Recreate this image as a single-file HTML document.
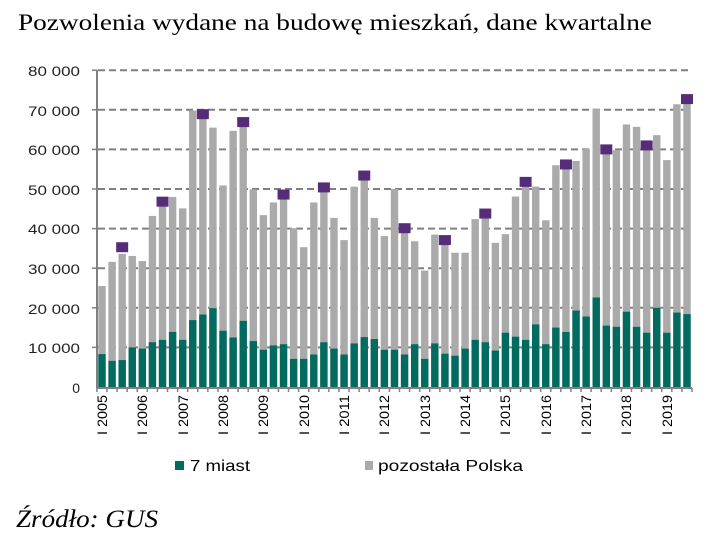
<!DOCTYPE html>
<html><head><meta charset="utf-8"><style>
body{margin:0;background:#fff;width:718px;height:541px;overflow:hidden}
svg{display:block}
</style></head><body>
<svg id="s" width="718" height="541" xmlns="http://www.w3.org/2000/svg">
<text x="18" y="30" font-family="Liberation Serif, serif" font-size="23" fill="#000" textLength="634" lengthAdjust="spacingAndGlyphs">Pozwolenia wydane na budowę mieszkań, dane kwartalne</text>
<g font-family="Liberation Sans, sans-serif" font-size="14" fill="#222" text-anchor="end">
<text x="80" y="76" textLength="52" lengthAdjust="spacingAndGlyphs">80 000</text>
<text x="80" y="116" textLength="52" lengthAdjust="spacingAndGlyphs">70 000</text>
<text x="80" y="155" textLength="52" lengthAdjust="spacingAndGlyphs">60 000</text>
<text x="80" y="195" textLength="52" lengthAdjust="spacingAndGlyphs">50 000</text>
<text x="80" y="234" textLength="52" lengthAdjust="spacingAndGlyphs">40 000</text>
<text x="80" y="274" textLength="52" lengthAdjust="spacingAndGlyphs">30 000</text>
<text x="80" y="314" textLength="52" lengthAdjust="spacingAndGlyphs">20 000</text>
<text x="80" y="353" textLength="52" lengthAdjust="spacingAndGlyphs">10 000</text>
<text x="80" y="393">0</text>
</g>
<g id="grid" stroke="#808080" stroke-width="2" stroke-dasharray="7,4"></g>
<g id="bars"></g>
<line x1="97" y1="70" x2="97" y2="388" stroke="#808080" stroke-width="2"/>
<line x1="97" y1="388" x2="692" y2="388" stroke="#808080" stroke-width="2"/>
<g id="ticks" stroke="#808080" stroke-width="1.5"></g>
<g font-family="Liberation Sans, sans-serif" font-size="14" fill="#000">
<text transform="translate(107,435) rotate(-90)" textLength="40" lengthAdjust="spacingAndGlyphs">I 2005</text>
<text transform="translate(147,435) rotate(-90)" textLength="40" lengthAdjust="spacingAndGlyphs">I 2006</text>
<text transform="translate(188,435) rotate(-90)" textLength="40" lengthAdjust="spacingAndGlyphs">I 2007</text>
<text transform="translate(228,435) rotate(-90)" textLength="40" lengthAdjust="spacingAndGlyphs">I 2008</text>
<text transform="translate(268,435) rotate(-90)" textLength="40" lengthAdjust="spacingAndGlyphs">I 2009</text>
<text transform="translate(309,435) rotate(-90)" textLength="40" lengthAdjust="spacingAndGlyphs">I 2010</text>
<text transform="translate(349,435) rotate(-90)" textLength="40" lengthAdjust="spacingAndGlyphs">I 2011</text>
<text transform="translate(389,435) rotate(-90)" textLength="40" lengthAdjust="spacingAndGlyphs">I 2012</text>
<text transform="translate(430,435) rotate(-90)" textLength="40" lengthAdjust="spacingAndGlyphs">I 2013</text>
<text transform="translate(470,435) rotate(-90)" textLength="40" lengthAdjust="spacingAndGlyphs">I 2014</text>
<text transform="translate(510,435) rotate(-90)" textLength="40" lengthAdjust="spacingAndGlyphs">I 2015</text>
<text transform="translate(551,435) rotate(-90)" textLength="40" lengthAdjust="spacingAndGlyphs">I 2016</text>
<text transform="translate(591,435) rotate(-90)" textLength="40" lengthAdjust="spacingAndGlyphs">I 2017</text>
<text transform="translate(631,435) rotate(-90)" textLength="40" lengthAdjust="spacingAndGlyphs">I 2018</text>
<text transform="translate(672,435) rotate(-90)" textLength="40" lengthAdjust="spacingAndGlyphs">I 2019</text>
</g>
<rect x="175" y="461" width="9" height="9" fill="#006b5e"/>
<text x="190" y="471" font-family="Liberation Sans, sans-serif" font-size="16" fill="#000" textLength="60" lengthAdjust="spacingAndGlyphs">7 miast</text>
<rect x="365" y="461" width="8" height="9" fill="#aaaaaa"/>
<text x="378" y="471" font-family="Liberation Sans, sans-serif" font-size="16" fill="#000" textLength="145" lengthAdjust="spacingAndGlyphs">pozostała Polska</text>
<text x="16" y="527" font-family="Liberation Serif, serif" font-style="italic" font-size="25" fill="#000" textLength="142" lengthAdjust="spacingAndGlyphs">Źródło: GUS</text>
</svg>
<script>
var tot=[25.5,31.6,33.6,33.1,31.8,43.2,46.5,48.0,45.1,69.8,68.0,65.5,50.9,64.7,66.5,49.9,43.4,46.6,47.5,40.1,35.3,46.6,49.5,42.7,37.1,50.6,52.5,42.7,38.1,50.0,39.0,36.8,29.4,38.5,36.0,33.9,33.9,42.4,42.8,36.4,38.6,48.1,51.0,50.6,42.1,56.0,55.3,57.1,60.1,70.3,59.0,59.8,66.3,65.7,60.0,63.6,57.3,71.4,72.0];
var gr=[8.3,6.6,6.8,10.0,9.7,11.3,11.9,13.9,11.9,16.9,18.3,19.9,14.2,12.5,16.7,11.6,9.4,10.5,10.8,7.1,7.1,8.2,11.3,9.7,8.2,11.0,12.6,12.1,9.4,9.4,8.2,10.8,7.1,11.0,8.4,7.9,9.7,11.9,11.3,9.2,13.7,12.7,11.9,15.8,10.8,15.0,13.9,19.3,17.8,22.6,15.5,15.2,19.0,15.2,13.7,20.0,13.7,18.8,18.4];
var mk={2:35.3,6:46.8,10:68.9,14:66.9,18:48.6,22:50.4,26:53.4,30:40.1,34:37.1,38:43.8,42:51.8,46:56.2,50:60.0,54:61.0,58:72.7};
var NS="http://www.w3.org/2000/svg";
function el(p,t,a){var e=document.createElementNS(NS,t);for(var k in a)e.setAttribute(k,a[k]);p.appendChild(e);return e;}
var y0=387,k=3.96;
var g=document.getElementById('grid');
for(var i=1;i<=8;i++){var y=y0-i*39.6;el(g,'line',{x1:98,y1:y,x2:692,y2:y});el(document.getElementById('ticks'),'line',{x1:92,y1:y,x2:97,y2:y});}
var b=document.getElementById('bars'),tk=document.getElementById('ticks');
for(var i=0;i<59;i++){var x=98.3+i*10.086;
el(b,'rect',{x:x,y:y0-tot[i]*k,width:7.4,height:tot[i]*k,fill:'#aaaaaa'});
el(b,'rect',{x:x,y:y0-gr[i]*k,width:7.4,height:gr[i]*k,fill:'#006b5e'});
if(mk[i]!==undefined){el(b,'rect',{x:x+3.7-6,y:y0-mk[i]*k-5,width:12,height:10,fill:'#562c78'});}
el(tk,'line',{x1:x-1.4,y1:388,x2:x-1.4,y2:392});
}
el(tk,'line',{x1:692,y1:388,x2:692,y2:392});
</script>
</body></html>
